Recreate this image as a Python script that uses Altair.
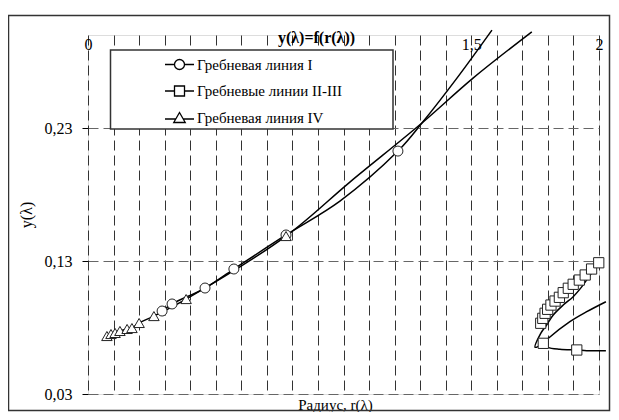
import altair as alt
import pandas as pd

SERIES = ["Гребневая линия I", "Гребневые линии II-III", "Гребневая линия IV"]

# ---- markers ----
r_I = [0.290, 0.329, 0.458, 0.571, 0.775, 1.213]
y_I = [0.0924, 0.0977, 0.1097, 0.1240, 0.1496, 0.2127]

r_IV = [0.074, 0.090, 0.106, 0.125, 0.153, 0.172, 0.200, 0.258, 0.384, 0.775]
y_IV = [0.0736, 0.0751, 0.0759, 0.0774, 0.0789, 0.0796, 0.0834, 0.0886, 0.1014, 0.1488]

r_II = [1.772, 1.780, 1.789, 1.799, 1.812, 1.828, 1.845, 1.860, 1.880, 1.899,
        1.923, 1.946, 1.971, 1.999, 1.782, 1.913]
y_II = [0.0832, 0.0869, 0.0907, 0.0937, 0.0969, 0.0999, 0.1027, 0.1062, 0.1095, 0.1125,
        0.1157, 0.1195, 0.1240, 0.1287, 0.0681, 0.0631]

# ---- smooth curves ----
line_I_r = [0.290, 0.329, 0.458, 0.571, 0.775, 0.986, 1.213, 1.307, 1.444, 1.581]
line_I_y = [0.0924, 0.0977, 0.1097, 0.1240, 0.1496, 0.1751, 0.2127, 0.2338, 0.2676, 0.3037]

line_IV_r = [0.074, 0.090, 0.106, 0.125, 0.153, 0.172, 0.200, 0.258, 0.384, 0.775,
             1.025, 1.307, 1.507, 1.737]
line_IV_y = [0.0736, 0.0751, 0.0759, 0.0774, 0.0789, 0.0796, 0.0834, 0.0886, 0.1014, 0.1488,
             0.1894, 0.2338, 0.2676, 0.3024]

line_IIa_r = [1.782, 1.800, 1.847, 1.913, 1.952, 2.027]
line_IIa_y = [0.0681, 0.0651, 0.0636, 0.0631, 0.0626, 0.0626]

line_IIb_r = [1.782, 1.750, 1.772, 1.795, 1.821, 1.860, 1.899, 1.930, 1.960, 1.999]
line_IIb_y = [0.0681, 0.0651, 0.0756, 0.0819, 0.0894, 0.0969, 0.1032, 0.1100, 0.1180, 0.1287]

line_IIc_r = [1.782, 1.802, 1.886, 1.952, 2.027]
line_IIc_y = [0.0681, 0.0719, 0.0844, 0.0919, 0.0994]

X_TICKS = [round(i * 0.1, 1) for i in range(21)]
X_LABELS = [0, 1.5, 2]
Y_TICKS = [0.03, 0.13, 0.23]
MARKER_SIZES = [100, 110, 165]

FONT = "Liberation Serif, Tinos, Times New Roman, DejaVu Serif, serif"

pts = pd.DataFrame(
    [{"r": a, "y": b, "series": SERIES[0]} for a, b in zip(r_I, y_I)]
    + [{"r": a, "y": b, "series": SERIES[1]} for a, b in zip(r_II, y_II)]
    + [{"r": a, "y": b, "series": SERIES[2]} for a, b in zip(r_IV, y_IV)]
)

rows = []
for name, rr, yy in [("I", line_I_r, line_I_y), ("IV", line_IV_r, line_IV_y),
                     ("IIa", line_IIa_r, line_IIa_y), ("IIb", line_IIb_r, line_IIb_y),
                     ("IIc", line_IIc_r, line_IIc_y)]:
    for i, (a, b) in enumerate(zip(rr, yy)):
        rows.append({"r": a, "y": b, "branch": name, "ord": i})
lines_df = pd.DataFrame(rows)

xs = alt.Scale(domain=[0, 2], nice=False, zero=False)
ys = alt.Scale(domain=[0.03, 0.30], nice=False, zero=False)

y_axis = alt.Axis(values=Y_TICKS, format=".2f", labelExpr="replace(datum.label, '.', ',')",
                  tickSize=6, tickColor="black", tickWidth=1, domain=False,
                  grid=True, gridDash=[10, 5], gridColor="#666", gridWidth=1,
                  labelFont=FONT, labelFontSize=16, labelColor="black", labelPadding=10,
                  title="y(λ)", titleFont=FONT, titleFontSize=16, titleFontWeight="normal",
                  titleColor="black", titleX=-62, titleY=179.5, titleAngle=270,
                  titleAlign="center", titleBaseline="middle")

x_bottom = alt.Axis(orient="bottom", values=X_TICKS, labels=False, ticks=False, domain=False,
                    grid=True, gridDash=[10, 5], gridColor="#333", gridWidth=1,
                    title="Радиус, r(λ)", titleFont=FONT, titleFontSize=15,
                    titleFontWeight="normal", titleColor="black", titlePadding=3,
                    titleX=247, titleAlign="center")

x_top = alt.Axis(orient="top", values=X_LABELS, ticks=False, domain=False, grid=False,
                 labelPadding=-17, labelFont=FONT, labelFontSize=16, labelColor="black",
                 labelExpr="replace(format(datum.value, '~g'), '.', ',')",
                 labelFlush=False, title=None)

lines = alt.Chart(lines_df).mark_line(
    color="black", strokeWidth=1.5, interpolate="catmull-rom", clip=False
).encode(
    x=alt.X("r:Q", scale=xs, axis=x_bottom),
    y=alt.Y("y:Q", scale=ys, axis=y_axis),
    detail="branch:N",
    order="ord:Q",
)

points = alt.Chart(pts).mark_point(
    filled=True, fill="white", stroke="#222", strokeWidth=1, opacity=1, clip=False
).encode(
    x=alt.X("r:Q", scale=xs, axis=x_top),
    y=alt.Y("y:Q", scale=ys, axis=y_axis),
    shape=alt.Shape("series:N", scale=alt.Scale(domain=SERIES,
                    range=["circle", "square", "triangle-up"]), legend=None),
    size=alt.Size("series:N", scale=alt.Scale(domain=SERIES, range=MARKER_SIZES), legend=None),
)

legend_box = alt.Chart(alt.Data(values=[{}])).mark_rect(
    fill="white", stroke="#333", strokeWidth=1.5
).encode(x=alt.value(22.5), x2=alt.value(305), y=alt.value(15), y2=alt.value(94))

frame = alt.Chart(alt.Data(values=[{}])).mark_rect(
    fill="white", fillOpacity=0, stroke="#333", strokeWidth=1.5
).encode(x=alt.value(-79.5), x2=alt.value(521.5), y=alt.value(-19.5), y2=alt.value(375.5))

LEG_PATHS = [
    "M-2.9,0H-1M1,0H2.9M-1,0A1,1,0,1,1,1,0A1,1,0,1,1,-1,0Z",
    "M-2.9,0H-1M1,0H2.9M-1,-1H1V1H-1Z",
    "M-2.9,0.3H-0.8M0.8,0.3H2.9M0,-1L1.15,1H-1.15Z",
]

legend_layer = alt.Chart(pts).mark_point(opacity=0, size=100).encode(
    x=alt.X("r:Q", scale=xs, axis=None),
    y=alt.Y("y:Q", scale=ys, axis=y_axis),
    shape=alt.Shape("series:N", scale=alt.Scale(domain=SERIES, range=LEG_PATHS),
                    legend=alt.Legend(title=None, orient="none", legendX=84, legendY=22,
                                      padding=0, rowPadding=9.5, labelOffset=10, symbolOffset=0,
                                      symbolSize=100, symbolStrokeWidth=1.3,
                                      symbolStrokeColor="black", symbolFillColor="white",
                                      symbolOpacity=1, labelFont=FONT, labelFontSize=15,
                                      labelColor="black", labelLimit=300)),
)

chart = alt.layer(lines, points, legend_box, frame, legend_layer).resolve_scale(
    shape="independent", size="independent"
).resolve_axis(x="independent").properties(
    width=511, height=359,
    autosize=alt.AutoSizeParams(type="none"),
    padding={"left": 80, "top": 27, "right": 12, "bottom": 18},
    title=alt.TitleParams(text="y(λ)=f(r(λ))", font=FONT, fontSize=16, fontWeight="bold",
                          color="black", anchor="middle", frame="group", dx=-27, offset=-31),
).configure_view(stroke="black", strokeWidth=1).configure(background="white")

chart.save("out.html", embed_options={"renderer": "svg", "actions": False})
